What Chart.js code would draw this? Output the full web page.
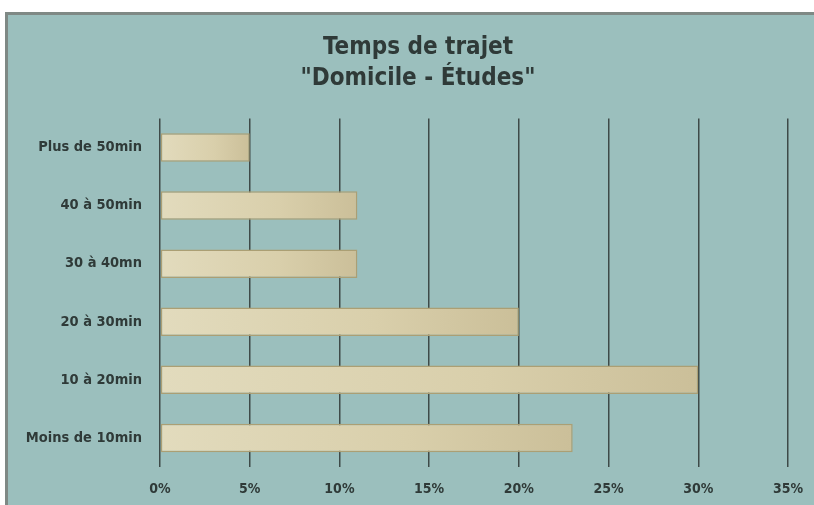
<!DOCTYPE html>
<html lang="fr">
<head>
<meta charset="utf-8">
<title>Temps de trajet</title>
<script src="https://cdn.jsdelivr.net/npm/chart.js@4"></script>
<style>
  html, body { margin: 0; padding: 0; background: #ffffff; overflow: hidden; }
  #panel {
    position: absolute;
    left: 5px;
    top: 12px;
    width: 820px;
    height: 500px;
    border: 3px solid #7f8985;
    background: #9bbfbd;
  }
  #panel canvas { display: block; }
</style>
</head>
<body>
<div id="panel"><canvas id="trajet" width="820" height="500"></canvas></div>
<script>
  // Durée du trajet domicile - études, part des répondants (%)
  const categories = ["Plus de 50min", "40 à 50min", "30 à 40mn", "20 à 30min", "10 à 20min", "Moins de 10min"];
  const percentages = [5, 11, 11, 20, 30, 23];
  const tickValues = [0, 5, 10, 15, 20, 25, 30, 35];

  const fontFamily = "'DejaVu Sans Condensed', 'DejaVu Sans', sans-serif";
  const textColor = "#2f3a38";

  // dégradé crème -> beige sur la longueur de chaque barre
  function barFill(context) {
    const chart = context.chart;
    const scales = chart.scales;
    if (!chart.chartArea || !scales.x) return "#d8cfab";
    const x0 = scales.x.getPixelForValue(0);
    const x1 = scales.x.getPixelForValue(context.raw);
    const g = chart.ctx.createLinearGradient(x0, 0, x1, 0);
    g.addColorStop(0, "#e2dbbd");
    g.addColorStop(0.6, "#d9cfab");
    g.addColorStop(1, "#cbbf99");
    return g;
  }

  // le titre reste centré sur toute la largeur du panneau, malgré la marge droite
  const centerTitle = {
    id: "centerTitle",
    afterLayout(chart) {
      const t = chart.titleBlock;
      if (!t) return;
      t.left = 0;
      t.right = chart.width;
      t.width = chart.width;
    },
  };

  const ctx = document.getElementById("trajet").getContext("2d");
  new Chart(ctx, {
    type: "bar",
    data: {
      labels: categories,
      datasets: [
        {
          label: "Temps de trajet",
          data: percentages,
          backgroundColor: barFill,
          borderColor: "#ab9f74",
          borderWidth: 1.5,
          borderSkipped: false,
          categoryPercentage: 1,
          barPercentage: 0.49,
        },
      ],
    },
    options: {
      indexAxis: "y",
      responsive: false,
      animation: false,
      layout: { padding: { left: 0, right: 40, top: 0, bottom: 0 } },
      plugins: {
        legend: { display: false },
        tooltip: { enabled: false },
        title: {
          display: true,
          text: ["Temps de trajet", "\"Domicile - Études\""],
          color: textColor,
          font: { family: fontFamily, size: 24, weight: "bold", lineHeight: 1.3 },
          padding: { top: 17, bottom: 24 },
        },
      },
      scales: {
        x: {
          min: 0,
          max: 35,
          afterBuildTicks: (scale) => {
            scale.ticks = tickValues.map((v) => ({ value: v }));
          },
          afterFit: (scale) => {
            scale.height = 48;
          },
          grid: {
            color: "#3e4a48",
            lineWidth: 1.5,
            drawTicks: false,
          },
          border: { display: false },
          ticks: {
            padding: 14,
            color: textColor,
            font: { family: fontFamily, size: 14, weight: "bold" },
            callback: (v) => v + "%",
          },
        },
        y: {
          afterFit: (scale) => {
            scale.width = 152;
          },
          grid: { display: false },
          border: { display: false },
          ticks: {
            padding: 10,
            color: textColor,
            font: { family: fontFamily, size: 14.5, weight: "bold" },
          },
        },
      },
    },
    plugins: [centerTitle],
  });
</script>
</body>
</html>
